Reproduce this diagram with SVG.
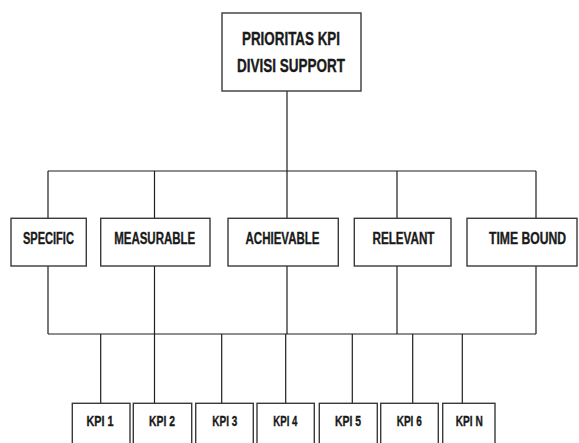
<svg xmlns="http://www.w3.org/2000/svg" width="579" height="443" viewBox="0 0 579 443">
<style>
.box{fill:#fff;stroke:#3a3a3a;stroke-width:1.4}
.ln{fill:none;stroke:#1e1e1e;stroke-width:1.2}
.t{font-family:"Liberation Sans",Arial,sans-serif;font-weight:bold;fill:#1a1a1a;stroke:#1a1a1a;stroke-width:0.35;text-anchor:middle}
.big{font-size:18px}
.mid{font-size:16px}
.sm{font-size:14px}
</style>
<rect width="579" height="443" fill="#fff"/>
<g id="connectors">
<path class="ln" d="M287 91V171M48 171H536M48 171V218M154.5 171V218M287 171V218M397 171V218M536 171V218"/>
<path class="ln" d="M48 266V334M154.5 266V334M287 266V334M397 266V334M536 266V334M48 334H536"/>
<path class="ln" d="M100.7 334V403M154.5 334V403M221.7 334V403M285.7 334V403M352.3 334V403M412.7 334V403M462.3 334V403"/>
</g>
<g id="root"><rect class="box" x="222" y="13" width="139" height="78"/>
<text class="t big" x="291" y="45" textLength="98" lengthAdjust="spacingAndGlyphs">PRIORITAS KPI</text>
<text class="t big" x="291" y="72.3" textLength="108" lengthAdjust="spacingAndGlyphs">DIVISI SUPPORT</text></g>
<g id="specific"><rect class="box" x="11" y="218.3" width="75.3" height="47.7"/><text class="t mid" x="48.4" y="243.5" textLength="51" lengthAdjust="spacingAndGlyphs">SPECIFIC</text></g>
<g id="measurable"><rect class="box" x="100.7" y="218.3" width="109.3" height="47.7"/><text class="t mid" x="154.7" y="243.5" textLength="81" lengthAdjust="spacingAndGlyphs">MEASURABLE</text></g>
<g id="achievable"><rect class="box" x="228" y="218.3" width="110.3" height="47.7"/><text class="t mid" x="282.5" y="243.5" textLength="74" lengthAdjust="spacingAndGlyphs">ACHIEVABLE</text></g>
<g id="relevant"><rect class="box" x="354.3" y="218.3" width="96.7" height="47.7"/><text class="t mid" x="403.5" y="243.5" textLength="62" lengthAdjust="spacingAndGlyphs">RELEVANT</text></g>
<g id="timebound"><rect class="box" x="467" y="218.3" width="110" height="47.7"/><text class="t mid" x="527.5" y="243.5" textLength="77" lengthAdjust="spacingAndGlyphs">TIME BOUND</text></g>
<g id="kpi1"><rect class="box" x="72.3" y="403.3" width="57.7" height="50"/><text class="t sm" x="100" y="426" textLength="27" lengthAdjust="spacingAndGlyphs">KPI 1</text></g>
<g id="kpi2"><rect class="box" x="133.3" y="403.3" width="58.4" height="50"/><text class="t sm" x="162" y="426" textLength="26" lengthAdjust="spacingAndGlyphs">KPI 2</text></g>
<g id="kpi3"><rect class="box" x="195.7" y="403.3" width="57.6" height="50"/><text class="t sm" x="224.8" y="426" textLength="25" lengthAdjust="spacingAndGlyphs">KPI 3</text></g>
<g id="kpi4"><rect class="box" x="257" y="403.3" width="57.3" height="50"/><text class="t sm" x="285.3" y="426" textLength="24" lengthAdjust="spacingAndGlyphs">KPI 4</text></g>
<g id="kpi5"><rect class="box" x="319.3" y="403.3" width="58" height="50"/><text class="t sm" x="348" y="426" textLength="26" lengthAdjust="spacingAndGlyphs">KPI 5</text></g>
<g id="kpi6"><rect class="box" x="380.7" y="403.3" width="57.6" height="50"/><text class="t sm" x="409.2" y="426" textLength="25" lengthAdjust="spacingAndGlyphs">KPI 6</text></g>
<g id="kpin"><rect class="box" x="442.7" y="403.3" width="52.3" height="50"/><text class="t sm" x="469.3" y="426" textLength="27" lengthAdjust="spacingAndGlyphs">KPI N</text></g>
</svg>
